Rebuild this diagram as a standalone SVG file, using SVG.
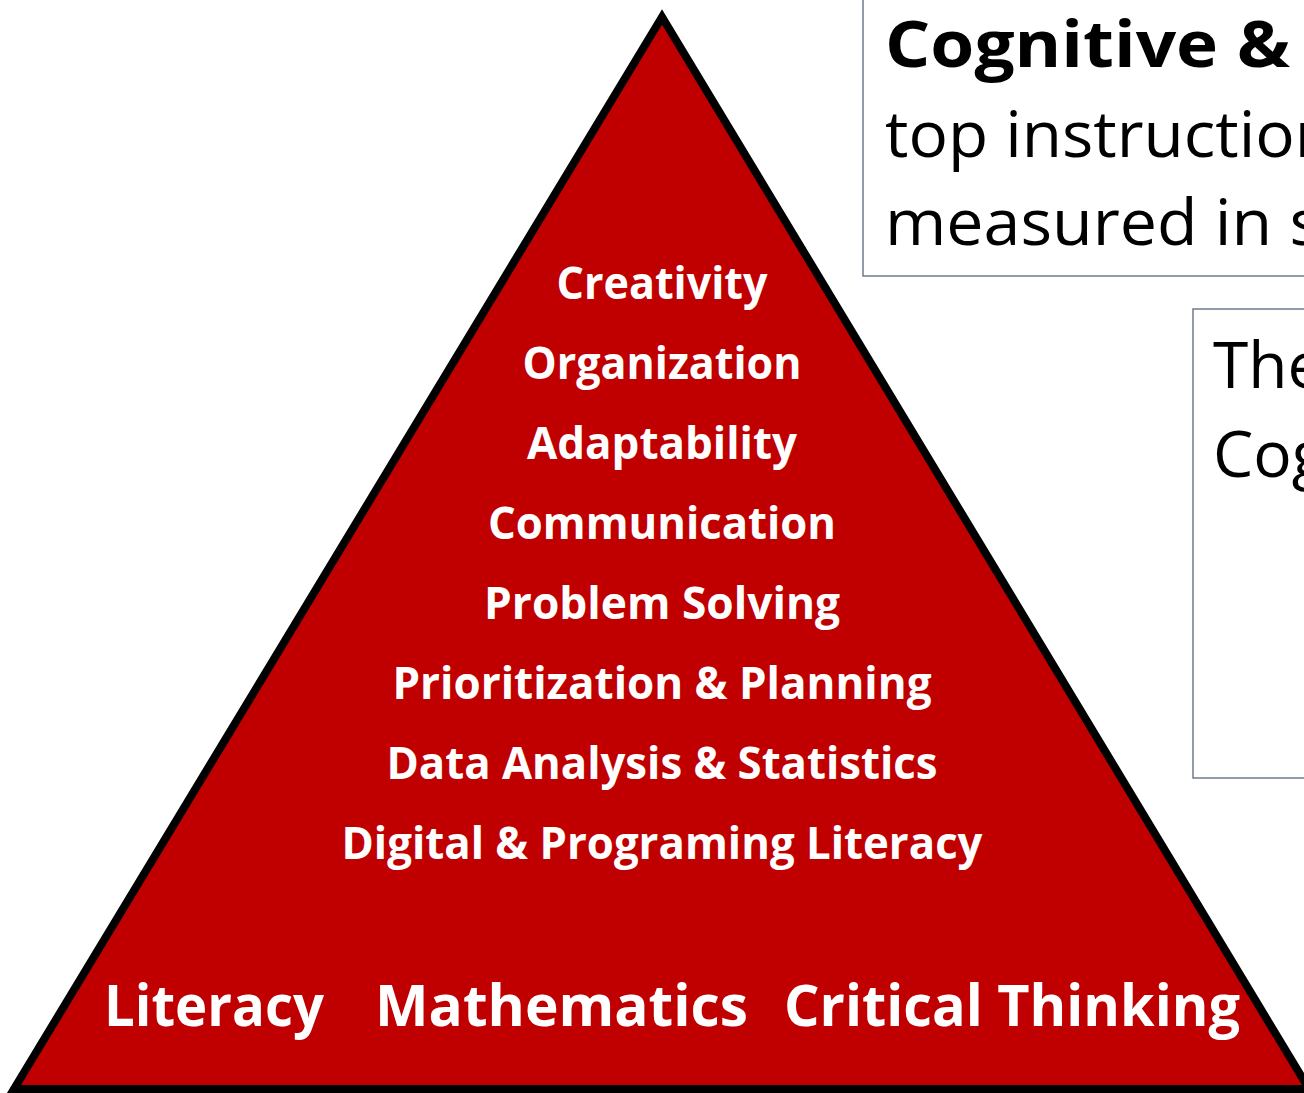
<svg xmlns="http://www.w3.org/2000/svg" width="1304" height="1093" viewBox="0 0 1304 1093">
<style>
.lbl{font-family:"Open Sans","Noto Sans",sans-serif;font-weight:bold;fill:#fff;font-size:44px;text-anchor:middle}
.base{font-family:"Open Sans","Noto Sans",sans-serif;font-weight:bold;fill:#fff;font-size:58px}
.box{fill:#fff;stroke:#6E7B8E;stroke-width:1.5}
.bt{font-family:"Open Sans","Noto Sans",sans-serif;fill:#000;font-size:64px}
</style>
<rect width="1304" height="1093" fill="#fff"/>
<g id="pyramid">
<polygon points="662,17 14,1089 1309,1089" fill="#C00000" stroke="#000" stroke-width="8" stroke-linejoin="miter"/>
<text class="lbl" x="662" y="299" textLength="211" lengthAdjust="spacingAndGlyphs">Creativity</text>
<text class="lbl" x="662" y="379" textLength="279" lengthAdjust="spacingAndGlyphs">Organization</text>
<text class="lbl" x="662" y="459" textLength="270" lengthAdjust="spacingAndGlyphs">Adaptability</text>
<text class="lbl" x="662" y="539" textLength="348" lengthAdjust="spacingAndGlyphs">Communication</text>
<text class="lbl" x="662" y="619" textLength="356" lengthAdjust="spacingAndGlyphs">Problem Solving</text>
<text class="lbl" x="662" y="699" textLength="539" lengthAdjust="spacingAndGlyphs">Prioritization &amp; Planning</text>
<text class="lbl" x="662" y="779" textLength="551" lengthAdjust="spacingAndGlyphs">Data Analysis &amp; Statistics</text>
<text class="lbl" x="662" y="859" textLength="641" lengthAdjust="spacingAndGlyphs">Digital &amp; Programing Literacy</text>
<text class="base" x="104" y="1026" textLength="220" lengthAdjust="spacingAndGlyphs">Literacy</text>
<text class="base" x="375" y="1026" textLength="373" lengthAdjust="spacingAndGlyphs">Mathematics</text>
<text class="base" x="784" y="1026" textLength="456" lengthAdjust="spacingAndGlyphs">Critical Thinking</text>
</g>
<g id="box-top">
<rect class="box" x="863" y="-10" width="500" height="286"/>
<text class="bt" x="885" y="67" font-weight="bold" font-size="76" textLength="405" lengthAdjust="spacingAndGlyphs">Cognitive &amp;</text>
<text class="bt" x="885" y="157" textLength="450" lengthAdjust="spacingAndGlyphs">top instruction</text>
<text class="bt" x="885" y="245" textLength="436" lengthAdjust="spacingAndGlyphs">measured in s</text>
</g>
<g id="box-right">
<rect class="box" x="1193" y="309" width="200" height="469"/>
<text class="bt" x="1213" y="388">The</text>
<text class="bt" x="1213" y="477">Cog</text>
</g>
<g id="connectors"/>
</svg>
